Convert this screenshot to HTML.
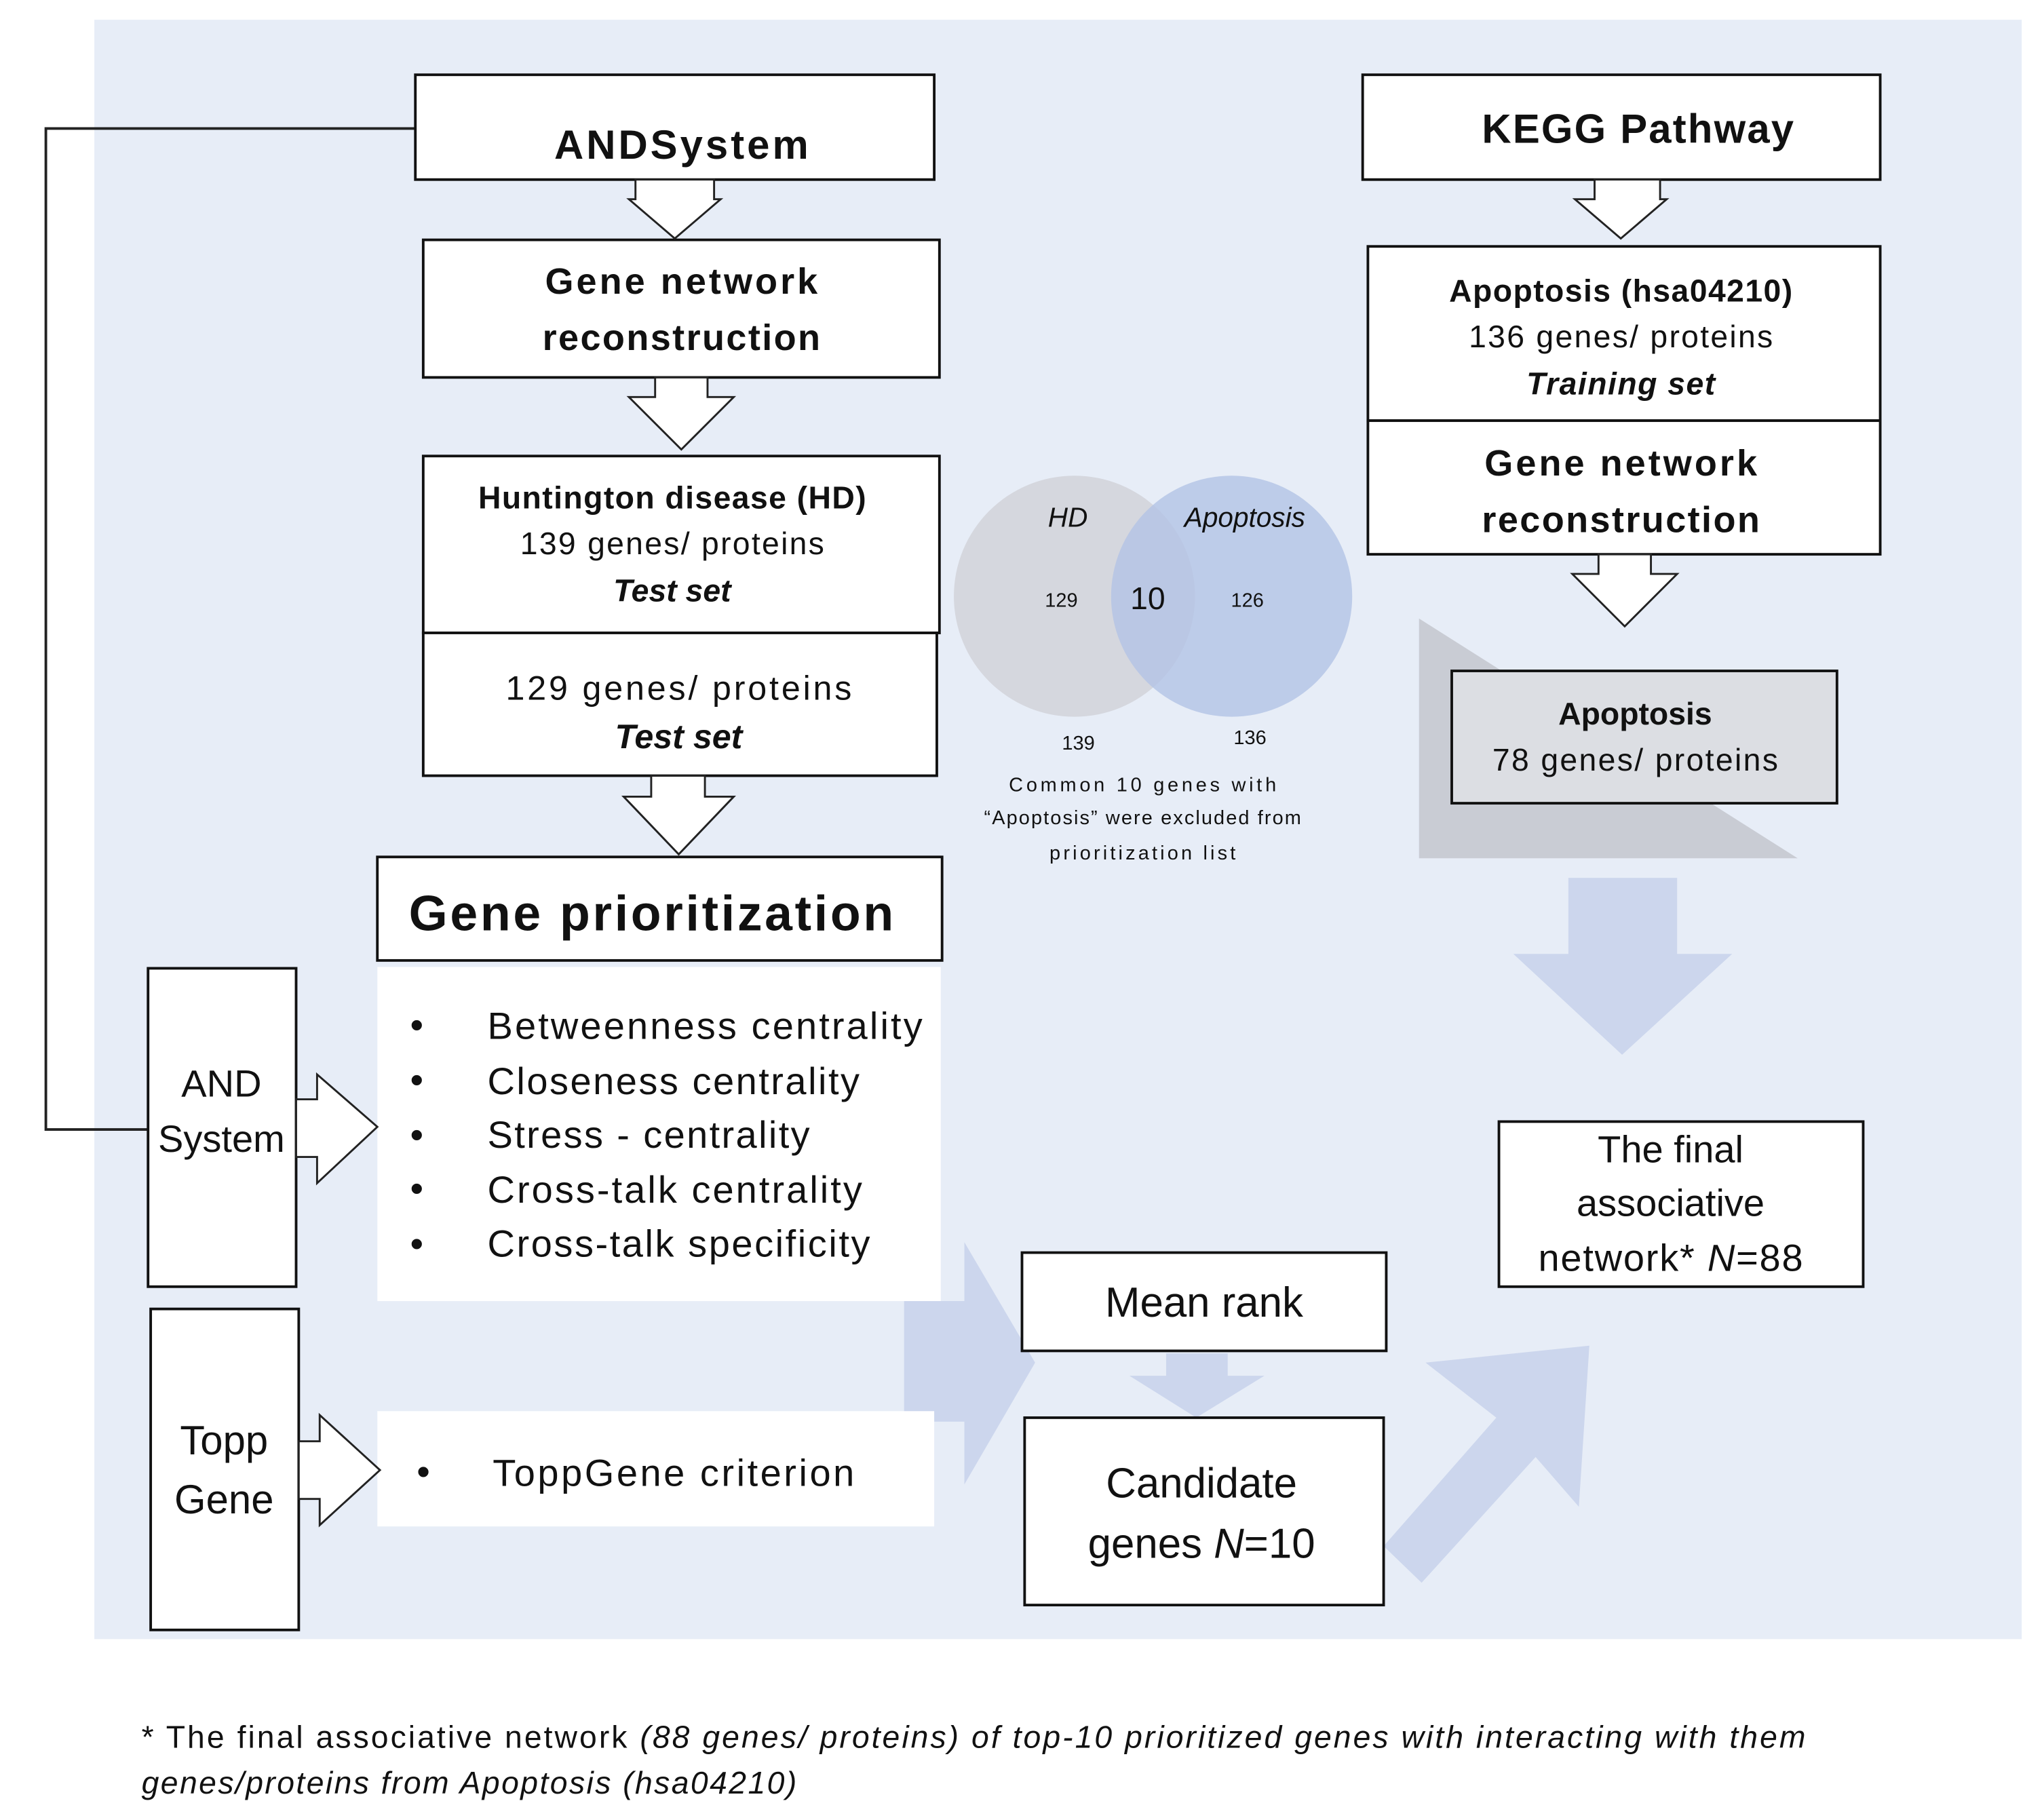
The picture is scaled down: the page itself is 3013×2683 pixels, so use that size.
<!DOCTYPE html>
<html><head><meta charset="utf-8"><style>
html,body{margin:0;padding:0;background:#fff;}
svg{display:block;}
text{font-family:"Liberation Sans",sans-serif;fill:#111;}
</style></head><body>
<svg width="3013" height="2683" viewBox="0 0 1560 1389" xmlns="http://www.w3.org/2000/svg">
<rect x="0" y="0" width="1560" height="1389" fill="#fff"/>
<rect x="72" y="15" width="1471" height="1236" fill="#e7edf7"/>

<g fill="#ccd6ed">
<polygon points="690,993 736,993 736,948 790,1040 736,1133 736,1085 690,1085"/>
<polygon points="862,1050 890,1050 890,1033 937,1033 937,1050 965,1050 913,1082"/>
<polygon points="1213,1027 1205,1150 1172,1112 1085,1208 1056,1180 1142,1082 1088,1040"/>
<polygon points="1197,670 1280,670 1280,728 1322,728 1238,805 1155,728 1197,728"/>
</g>

<polygon points="1083,472 1083,655 1372,655" fill="#c9ccd4"/>

<polyline points="317,98 35,98 35,862 113,862" fill="none" stroke="#222" stroke-width="2"/>

<g fill="#fff" stroke="#111" stroke-width="2">
<rect x="317" y="57" width="396" height="80"/>
<rect x="323" y="183" width="394" height="105"/>
<rect x="323" y="348" width="394" height="135"/>
<rect x="323" y="483" width="392" height="109"/>
<rect x="288" y="654" width="431" height="79"/>
<rect x="113" y="739" width="113" height="243"/>
<rect x="115" y="999" width="113" height="245"/>
<rect x="1040" y="57" width="395" height="80"/>
<rect x="1044" y="188" width="391" height="133"/>
<rect x="1044" y="321" width="391" height="102"/>
<rect x="1144" y="856" width="278" height="126"/>
<rect x="780" y="956" width="278" height="75"/>
<rect x="782" y="1082" width="274" height="143"/>
</g>
<rect x="1108" y="512" width="294" height="101" fill="#dcdee3" stroke="#111" stroke-width="2"/>
<rect x="288" y="738" width="430" height="255" fill="#fff"/>
<rect x="288" y="1077" width="425" height="88" fill="#fff"/>

<g fill="#fff" stroke="#222" stroke-width="1.5">
<polygon points="485,137 545,137 545,152 550,152 515,182 480,152 485,152"/>
<polygon points="500,288 540,288 540,303 560,303 520,343 480,303 500,303"/>
<polygon points="497,592 538,592 538,608 560,608 518,652 476,608 497,608"/>
<polygon points="1217,137 1267,137 1267,152 1272,152 1237,182 1202,152 1217,152"/>
<polygon points="1220,423 1260,423 1260,438 1280,438 1240,478 1200,438 1220,438"/>
<polygon points="226,839 242,839 242,820 288,860 242,903 242,883 226,883"/>
<polygon points="228,1100 244,1100 244,1080 290,1122 244,1164 244,1144 228,1144"/>
</g>

<circle cx="820" cy="455" r="92" fill="#d3d4da" opacity="0.9"/>
<circle cx="940" cy="455" r="92" fill="#b3c3e5" opacity="0.8"/>
<text x="815" y="402" font-size="21" font-style="italic" text-anchor="middle" fill="#333">HD</text>
<text x="950" y="402" font-size="21" font-style="italic" text-anchor="middle" fill="#333">Apoptosis</text>
<text x="810" y="463" font-size="15" text-anchor="middle">129</text>
<text x="876" y="465" font-size="24" text-anchor="middle">10</text>
<text x="952" y="463" font-size="15" text-anchor="middle">126</text>
<text x="823" y="572" font-size="15" text-anchor="middle">139</text>
<text x="954" y="568" font-size="15" text-anchor="middle">136</text>
<text x="872" y="604" font-size="15" text-anchor="middle" textLength="204">Common  10 genes with</text>
<text x="872" y="629" font-size="15" text-anchor="middle" textLength="242">“Apoptosis”  were  excluded  from</text>
<text x="872" y="656" font-size="15" text-anchor="middle" textLength="142">prioritization   list</text>

<g text-anchor="middle">
<text x="520" y="121" font-size="31" font-weight="bold" textLength="194">ANDSystem</text>
<text x="520" y="224" font-size="28" font-weight="bold" textLength="208">Gene network</text>
<text x="520" y="267" font-size="28" font-weight="bold" textLength="212">reconstruction</text>
<text x="513" y="388" font-size="24" font-weight="bold" textLength="296">Huntington disease (HD)</text>
<text x="513" y="423" font-size="24" textLength="232">139 genes/ proteins</text>
<text x="513" y="459" font-size="24" font-weight="bold" font-style="italic">Test set</text>
<text x="518" y="534" font-size="26" textLength="264">129 genes/ proteins</text>
<text x="518" y="571" font-size="26" font-weight="bold" font-style="italic">Test set</text>
<text x="497" y="710" font-size="38" font-weight="bold" textLength="370">Gene prioritization</text>
<text x="1250" y="109" font-size="31" font-weight="bold" textLength="238">KEGG Pathway</text>
<text x="1237" y="230" font-size="24" font-weight="bold" textLength="262">Apoptosis (hsa04210)</text>
<text x="1237" y="265" font-size="24" textLength="232">136 genes/ proteins</text>
<text x="1237" y="301" font-size="24" font-weight="bold" font-style="italic" textLength="144">Training  set</text>
<text x="1237" y="363" font-size="28" font-weight="bold" textLength="208">Gene network</text>
<text x="1237" y="406" font-size="28" font-weight="bold" textLength="212">reconstruction</text>
<text x="1248" y="553" font-size="24" font-weight="bold">Apoptosis</text>
<text x="1248" y="588" font-size="24" textLength="218">78 genes/ proteins</text>
<text x="1275" y="887" font-size="29">The final</text>
<text x="1275" y="928" font-size="29">associative</text>
<text x="1275" y="970" font-size="29" textLength="202">network* <tspan font-style="italic">N</tspan>=88</text>
<text x="919" y="1005" font-size="32">Mean rank</text>
<text x="917" y="1143" font-size="32">Candidate</text>
<text x="917" y="1189" font-size="32">genes <tspan font-style="italic">N</tspan>=10</text>
<text x="169" y="837" font-size="29">AND</text>
<text x="169" y="879" font-size="29">System</text>
<text x="171" y="1110" font-size="31">Topp</text>
<text x="171" y="1155" font-size="31">Gene</text>
</g>
<g font-size="29">
<text x="313" y="792">•</text><text x="372" y="793" textLength="332">Betweenness centrality</text>
<text x="313" y="834">•</text><text x="372" y="835" textLength="284">Closeness centrality</text>
<text x="313" y="876">•</text><text x="372" y="876" textLength="246">Stress - centrality</text>
<text x="313" y="917">•</text><text x="372" y="918" textLength="286">Cross-talk centrality</text>
<text x="313" y="959">•</text><text x="372" y="959" textLength="292">Cross-talk specificity</text>
<text x="318" y="1133">•</text><text x="376" y="1134" textLength="276">ToppGene criterion</text>
</g>
<text x="108" y="1334" font-size="24" textLength="1270">* The final associative network <tspan font-style="italic">(88 genes/ proteins) of top-10 prioritized genes with interacting with them</tspan></text>
<text x="108" y="1369" font-size="24" font-style="italic" textLength="500">genes/proteins from Apoptosis (hsa04210)</text>
</svg>
</body></html>
